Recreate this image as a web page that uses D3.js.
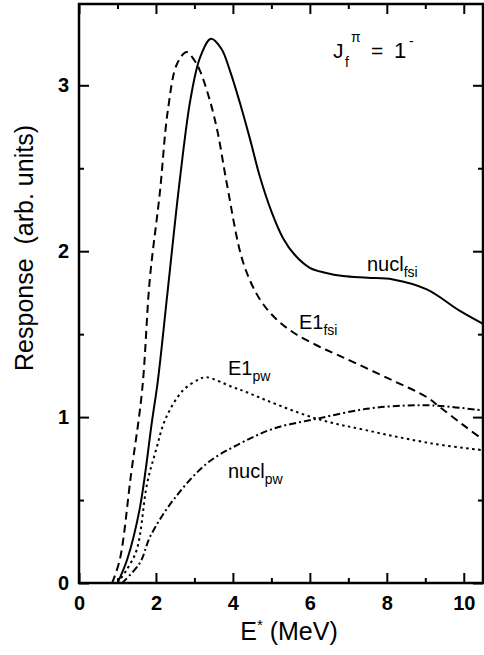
<!DOCTYPE html>
<html>
<head>
<meta charset="utf-8">
<script src="https://cdn.jsdelivr.net/npm/d3@7"></script>
<style>
  body { margin: 0; background: white; }
  svg { display: block; font-family: "Liberation Sans", Arial, Helvetica, sans-serif; }
  .tick text { font-weight: bold; font-size: 20px; fill: black; }
  .tick line { stroke: black; stroke-width: 2; }
</style>
</head>
<body>
<script>
// energies (MeV) and responses
const nuclFsi = [[1.0,0],[1.25,0.14],[1.58,0.45],[1.9,0.98],[2.05,1.22],[2.3,1.75],[2.62,2.43],[2.9,2.92],[3.15,3.17],[3.43,3.28],[3.7,3.22],[3.92,3.09],[4.2,2.88],[4.44,2.68],[4.7,2.45],[5.0,2.24],[5.3,2.08],[5.6,1.98],[6.0,1.9],[6.4,1.87],[6.86,1.85],[7.5,1.84],[8.16,1.83],[9.04,1.77],[9.9,1.64],[10.52,1.56]]
const e1Fsi = [[0.86,0],[1.06,0.14],[1.35,0.65],[1.64,1.16],[1.84,1.83],[2.1,2.35],[2.31,2.85],[2.55,3.13],[2.8,3.2],[3.0,3.15],[3.14,3.09],[3.4,2.91],[3.61,2.71],[3.84,2.41],[4.27,1.93],[4.7,1.71],[5.13,1.59],[5.57,1.51],[6.2,1.43],[6.86,1.36],[8.16,1.22],[9.04,1.12],[9.38,1.06],[10.0,0.95],[10.52,0.86]]
const e1Pw = [[1.0,0],[1.24,0.08],[1.5,0.2],[1.77,0.6],[2.0,0.8],[2.25,0.99],[2.7,1.16],[3.14,1.23],[3.32,1.24],[4.0,1.18],[4.36,1.15],[4.88,1.1],[6.18,0.99],[7.48,0.92],[9.2,0.84],[10.52,0.8]]
const nuclPw = [[1.12,0],[1.58,0.12],[1.85,0.28],[2.45,0.5],[3.32,0.72],[4.18,0.84],[5.05,0.93],[6.18,0.99],[7.48,1.05],[8.5,1.07],[9.2,1.07],[10.52,1.04]]

const xMajor = [0, 2, 4, 6, 8, 10]
const xMinor = [1, 3, 5, 7, 9]
const yMajor = [0, 1, 2, 3]
const yMinor = [0.5, 1.5, 2.5]

const series = [
    { data: nuclFsi, dash: null },
    { data: e1Fsi, dash: '8,5' },
    { data: e1Pw, dash: '2.5,3.5' },
    { data: nuclPw, dash: '7,3,2,3' }
]

const margin = { top: 4, right: 1, bottom: 72, left: 79 }
const W = 484, H = 655
const width = W - margin.left - margin.right
const height = H - margin.top - margin.bottom

const svg = d3.select('body').append('svg')
    .attr('width', W)
    .attr('height', H)
    .append('g')
        .attr('transform', `translate(${margin.left}, ${margin.top})`)

const x = d3.scaleLinear().domain([0, 10.5]).range([0, width])
const y = d3.scaleLinear().domain([0, 3.49]).range([height, 0])

// bottom axis, ticks pointing in
svg.append('g')
    .attr('transform', `translate(0, ${height})`)
    .call(d3.axisBottom(x).tickValues(xMajor).tickSize(-10).tickPadding(13).tickFormat(d3.format('d')))
    .call(g => g.select('.domain').remove())
svg.append('g')
    .attr('transform', `translate(0, ${height})`)
    .call(d3.axisBottom(x).tickValues(xMinor).tickSize(-5).tickFormat(''))
    .call(g => g.select('.domain').remove())

// top axis
svg.append('g')
    .call(d3.axisTop(x).tickValues(xMajor).tickSize(-10).tickFormat(''))
    .call(g => g.select('.domain').remove())
svg.append('g')
    .call(d3.axisTop(x).tickValues(xMinor).tickSize(-5).tickFormat(''))
    .call(g => g.select('.domain').remove())

// left axis
svg.append('g')
    .call(d3.axisLeft(y).tickValues(yMajor).tickSize(-10).tickPadding(10).tickFormat(d3.format('d')))
    .call(g => g.select('.domain').remove())
svg.append('g')
    .call(d3.axisLeft(y).tickValues(yMinor).tickSize(-5).tickFormat(''))
    .call(g => g.select('.domain').remove())

// right axis
svg.append('g')
    .attr('transform', `translate(${width}, 0)`)
    .call(d3.axisRight(y).tickValues(yMajor).tickSize(-10).tickFormat(''))
    .call(g => g.select('.domain').remove())
svg.append('g')
    .attr('transform', `translate(${width}, 0)`)
    .call(d3.axisRight(y).tickValues(yMinor).tickSize(-5).tickFormat(''))
    .call(g => g.select('.domain').remove())

svg.append('rect')
    .attr('x', 0).attr('y', 0)
    .attr('width', width).attr('height', height)
    .attr('fill', 'none')
    .attr('stroke', 'black')
    .attr('stroke-width', 2.5)

const line = d3.line()
    .x(d => x(d[0]))
    .y(d => y(d[1]))
    .curve(d3.curveCatmullRom.alpha(0.5))

svg.append('defs').append('clipPath').attr('id', 'clip')
    .append('rect').attr('width', width).attr('height', height)

svg.selectAll('.curve')
    .data(series)
    .enter().append('path')
    .attr('class', 'curve')
    .attr('clip-path', 'url(#clip)')
    .attr('d', d => line(d.data))
    .attr('fill', 'none')
    .attr('stroke', 'black')
    .attr('stroke-width', 2)
    .attr('stroke-dasharray', d => d.dash)

// curve labels with subscripts
function label(px, py, main, sub) {
    const t = svg.append('text')
        .attr('x', px - margin.left)
        .attr('y', py - margin.top)
        .style('font-size', '20px')
    t.append('tspan').text(main)
    t.append('tspan').attr('dy', 6).style('font-size', '14px').text(sub)
}
label(367, 271, 'nucl', 'fsi')
label(299, 329, 'E1', 'fsi')
label(228, 375, 'E1', 'pw')
label(228, 478, 'nucl', 'pw')

// J_f^pi = 1^-
const jx = 333 - margin.left, jy = 58 - margin.top
svg.append('text').attr('x', jx).attr('y', jy).style('font-size', '21px').text('J')
svg.append('text').attr('x', jx + 12).attr('y', jy + 9).style('font-size', '14px').text('f')
svg.append('text').attr('x', jx + 18).attr('y', jy - 16).style('font-size', '14px').text('π')
svg.append('text').attr('x', jx + 38).attr('y', jy).style('font-size', '21px').text('=')
svg.append('text').attr('x', jx + 61).attr('y', jy).style('font-size', '22px').text('1')
svg.append('text').attr('x', jx + 76).attr('y', jy - 12).style('font-size', '14px').text('-')

// axis titles
svg.append('text')
    .attr('x', 289 - margin.left)
    .attr('y', 640 - margin.top)
    .style('text-anchor', 'middle')
    .style('font-size', '25px')
    .html('E<tspan dy="-10" font-size="15">*</tspan><tspan dy="10"> (MeV)</tspan>')

svg.append('text')
    .attr('transform', `translate(${33 - margin.left}, ${248 - margin.top}) rotate(-90)`)
    .style('text-anchor', 'middle')
    .style('font-size', '25px')
    .text('Response\u00a0\u00a0(arb. units)')
</script>
</body>
</html>
